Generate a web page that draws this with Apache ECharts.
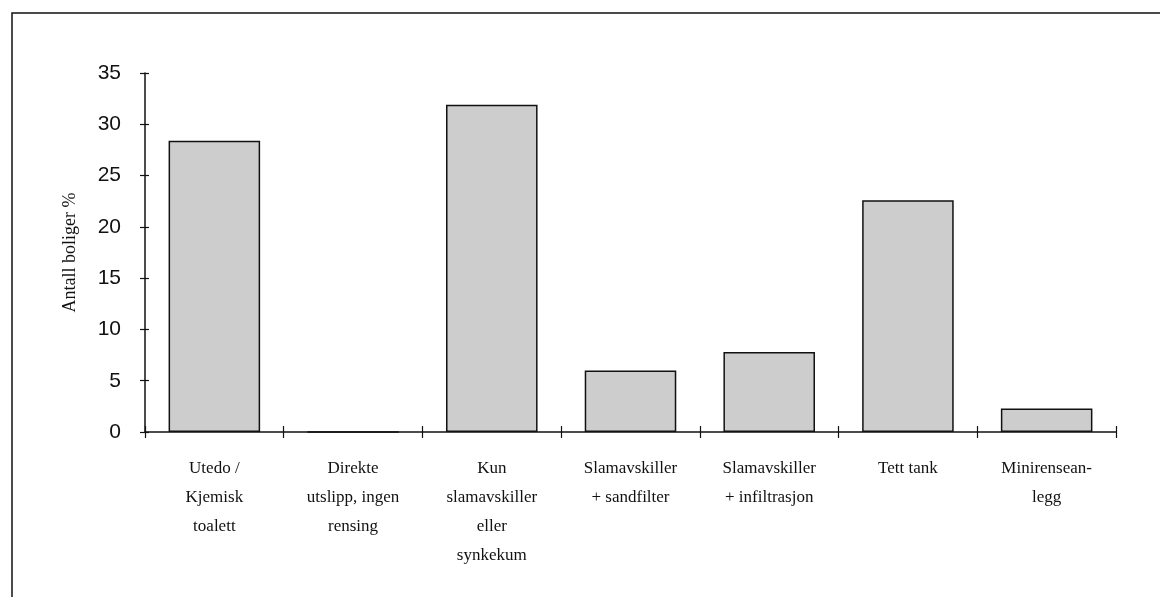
<!DOCTYPE html>
<html>
<head>
<meta charset="utf-8">
<script src="https://cdn.jsdelivr.net/npm/echarts@6/dist/echarts.min.js"></script>
<style>
  html, body { margin: 0; padding: 0; background: #fff; }
  #chart { width: 1160px; height: 597px; }
</style>
</head>
<body>
<div id="chart"></div>
<script>
  // kategorier og verdier (andel boliger i %)
  var categories = [
    'Utedo /\nKjemisk\ntoalett',
    'Direkte\nutslipp, ingen\nrensing',
    'Kun\nslamavskiller\neller\nsynkekum',
    'Slamavskiller\n+ sandfilter',
    'Slamavskiller\n+ infiltrasjon',
    'Tett tank',
    'Minirensean-\nlegg'
  ];
  var values = [28.4, 0, 31.9, 6.0, 7.8, 22.6, 2.3];
  var yName = 'Antall boliger %';

  var myChart = echarts.init(document.getElementById('chart'));

  var serif = '"Liberation Serif", "DejaVu Serif", serif';
  var sans = '"Liberation Sans", Arial, sans-serif';

  myChart.setOption({
    animation: false,
    backgroundColor: '#fff',
    graphic: [
      {
        type: 'polyline',
        shape: { points: [[12, 600], [12, 13], [1165, 13]] },
        style: { stroke: '#111', lineWidth: 1.5, fill: null }
      }
    ],
    grid: {
      left: 145,
      right: 44,
      top: 73,
      bottom: 165
    },
    xAxis: [
      {
        type: 'category',
        data: categories,
        axisLine: { show: true, lineStyle: { color: '#111', width: 1.5 } },
        axisTick: { show: true, length: 6, lineStyle: { color: '#111', width: 1.2 } },
        axisLabel: {
          interval: 0,
          margin: 22,
          fontFamily: serif,
          fontSize: 17,
          lineHeight: 29,
          color: '#111'
        }
      },
      {
        type: 'category',
        data: categories,
        position: 'bottom',
        axisLine: { show: false },
        axisTick: { show: true, inside: true, length: 6, lineStyle: { color: '#111', width: 1.2 } },
        axisLabel: { show: false }
      }
    ],
    yAxis: [
      {
        type: 'value',
        min: 0,
        max: 35,
        interval: 5,
        name: yName,
        nameLocation: 'middle',
        nameGap: 66,
        nameTextStyle: { fontFamily: serif, fontSize: 18, color: '#111' },
        splitLine: { show: false },
        axisLine: { show: true, lineStyle: { color: '#111', width: 1.5 } },
        axisTick: { show: true, length: 5, lineStyle: { color: '#111', width: 1.2 } },
        axisLabel: { fontFamily: sans, fontSize: 21, color: '#111', margin: 24 }
      },
      {
        type: 'value',
        min: 0,
        max: 35,
        interval: 5,
        position: 'left',
        splitLine: { show: false },
        axisLine: { show: false },
        axisTick: { show: true, inside: true, length: 4, lineStyle: { color: '#111', width: 1.2 } },
        axisLabel: { show: false }
      }
    ],
    series: [
      {
        type: 'bar',
        data: values,
        barCategoryGap: '34%',
        itemStyle: {
          color: '#cdcdcd',
          borderColor: '#111',
          borderWidth: 1.5
        }
      }
    ]
  });
</script>
</body>
</html>
